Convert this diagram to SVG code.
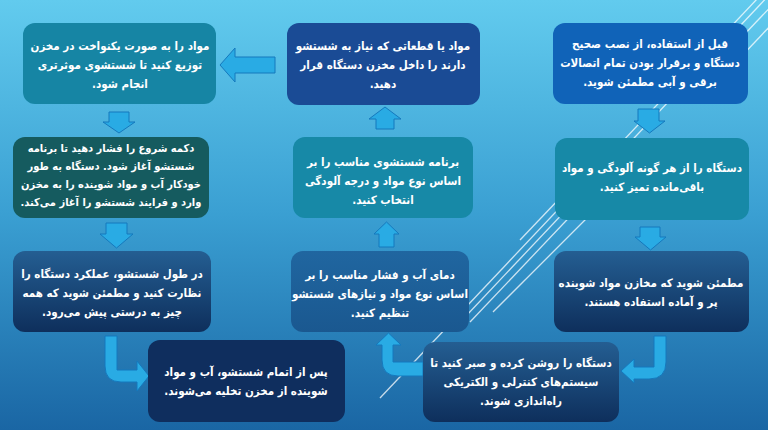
<svg xmlns="http://www.w3.org/2000/svg" width="768" height="430" viewBox="0 0 768 430">
<defs>
<linearGradient id="bg" x1="0" y1="0" x2="0" y2="1">
<stop offset="0" stop-color="#62cbee"/>
<stop offset="0.5" stop-color="#3a9fd2"/>
<stop offset="1" stop-color="#1a66a4"/>
</linearGradient>
<linearGradient id="dark" x1="0" y1="0" x2="0" y2="1">
<stop offset="0" stop-color="#245e92"/>
<stop offset="1" stop-color="#0e2f5c"/>
</linearGradient>
<linearGradient id="mid" x1="0" y1="0" x2="0" y2="1">
<stop offset="0" stop-color="#2066a0"/>
<stop offset="1" stop-color="#1a5890"/>
</linearGradient>
</defs>
<style>
.box{stroke:none}
.t{font-family:"DejaVu Sans Condensed","DejaVu Sans",sans-serif;font-stretch:condensed;font-weight:bold;font-size:11.5px;fill:#ffffff;text-anchor:middle;direction:rtl}
.t9{font-size:11px}
.arr{fill:#29abe4;stroke:#1579bd;stroke-width:1}
.deco line{stroke:#ffffff;stroke-width:1.3;stroke-opacity:0.75}
</style>
<rect x="0" y="0" width="768" height="430" fill="url(#bg)"/>
<g class="deco">
<line x1="380" y1="398" x2="775" y2="-20"/>
<line x1="466" y1="316" x2="772" y2="-8"/>
<line x1="470" y1="322" x2="600" y2="185"/>
<line x1="520" y1="240" x2="560" y2="198"/>
<line x1="493" y1="312" x2="600" y2="205"/>
<line x1="700" y1="100" x2="772" y2="24"/>
<line x1="720" y1="60" x2="780" y2="-3"/>
</g>
<g id="connectors">
<path class="arr" d="M638,109 H659 V121 H665 L649.5,133 L634,121 H638 Z"/>
<path class="arr" d="M640,227 H660 V237 H666 L650.5,250 L635,237 H640 Z"/>
<path class="arr" d="M654,336 H666 V362 Q666,379 649,379 H634 V383 L621,371 L634,359 V367 H654 Z"/>
<path class="arr" d="M423,362 H393 V345 H401 L388.5,333 L376,345 H382 V360 Q382,376 398,376 H423 Z"/>
<path class="arr" d="M379,247 H394 V234 H399 L386.5,222 L374,234 H379 Z"/>
<path class="arr" d="M376,129 H394 V119 H401 L385,107 L369,119 H376 Z"/>
<path class="arr" d="M275,57 V73 H235 V82 L220,65 L235,48 V57 Z"/>
<path class="arr" d="M109,112 H129 V122 H135 L119,133 L103,122 H109 Z"/>
<path class="arr" d="M106,223 H127 V234 H133 L116.5,248 L100,234 H106 Z"/>
<path class="arr" d="M105,336 H117 V370 H137 V361 L149,376 L137,391 V382 H121 Q105,382 105,366 Z"/>
</g>
<g id="n1">
<rect class="box" x="553" y="23" width="195" height="81" rx="12" fill="#1063b8"/>
<text class="t"><tspan x="650" y="48">قبل از استفاده، از نصب صحیح</tspan><tspan x="650" y="67">دستگاه و برقرار بودن تمام اتصالات</tspan><tspan x="650" y="86">برقی و آبی مطمئن شوید.</tspan></text>
</g>
<g id="n2">
<rect class="box" x="555" y="138" width="194" height="82" rx="12" fill="#1789a7"/>
<text class="t"><tspan x="652" y="172">دستگاه را از هر گونه آلودگی و مواد</tspan><tspan x="652" y="191">باقی‌مانده تمیز کنید.</tspan></text>
</g>
<g id="n3">
<rect class="box" x="554" y="251" width="195" height="81" rx="12" fill="url(#dark)"/>
<text class="t"><tspan x="651" y="287">مطمئن شوید که مخازن مواد شوینده</tspan><tspan x="651" y="306">پر و آماده استفاده هستند.</tspan></text>
</g>
<g id="n4">
<rect class="box" x="423" y="342" width="196" height="80" rx="12" fill="url(#dark)"/>
<text class="t"><tspan x="521" y="367">دستگاه را روشن کرده و صبر کنید تا</tspan><tspan x="521" y="386">سیستم‌های کنترلی و الکتریکی</tspan><tspan x="521" y="405">راه‌اندازی شوند.</tspan></text>
</g>
<g id="n5">
<rect class="box" x="291" y="251" width="178" height="81" rx="12" fill="url(#mid)"/>
<text class="t"><tspan x="380" y="279">دمای آب و فشار مناسب را بر</tspan><tspan x="380" y="298">اساس نوع مواد و نیازهای شستشو</tspan><tspan x="380" y="317">تنظیم کنید.</tspan></text>
</g>
<g id="n6">
<rect class="box" x="293" y="137" width="180" height="81" rx="12" fill="#1789a7"/>
<text class="t"><tspan x="383" y="166">برنامه شستشوی مناسب را بر</tspan><tspan x="383" y="185">اساس نوع مواد و درجه آلودگی</tspan><tspan x="383" y="204">انتخاب کنید.</tspan></text>
</g>
<g id="n7">
<rect class="box" x="287" y="23" width="193" height="82" rx="12" fill="#1a4b95"/>
<text class="t"><tspan x="383" y="50">مواد یا قطعاتی که نیاز به شستشو</tspan><tspan x="383" y="69">دارند را داخل مخزن دستگاه قرار</tspan><tspan x="383" y="88">دهید.</tspan></text>
</g>
<g id="n8">
<rect class="box" x="23" y="23" width="193" height="81" rx="12" fill="#1685a4"/>
<text class="t"><tspan x="120" y="50">مواد را به صورت یکنواخت در مخزن</tspan><tspan x="120" y="69">توزیع کنید تا شستشوی موثرتری</tspan><tspan x="120" y="88">انجام شود.</tspan></text>
</g>
<g id="n9">
<rect class="box" x="13" y="137" width="196" height="81" rx="12" fill="#155b5f"/>
<text class="t t9"><tspan x="111" y="152">دکمه شروع را فشار دهید تا برنامه</tspan><tspan x="111" y="170">شستشو آغاز شود. دستگاه به طور</tspan><tspan x="111" y="188">خودکار آب و مواد شوینده را به مخزن</tspan><tspan x="111" y="206">وارد و فرایند شستشو را آغاز می‌کند.</tspan></text>
</g>
<g id="n10">
<rect class="box" x="13" y="251" width="198" height="81" rx="12" fill="url(#dark)"/>
<text class="t"><tspan x="112" y="278">در طول شستشو، عملکرد دستگاه را</tspan><tspan x="112" y="297">نظارت کنید و مطمئن شوید که همه</tspan><tspan x="112" y="316">چیز به درستی پیش می‌رود.</tspan></text>
</g>
<g id="n11">
<rect class="box" x="148" y="340" width="197" height="82" rx="12" fill="#0f2e5e"/>
<text class="t"><tspan x="246" y="376">پس از اتمام شستشو، آب و مواد</tspan><tspan x="246" y="395">شوینده از مخزن تخلیه می‌شوند.</tspan></text>
</g>
</svg>
